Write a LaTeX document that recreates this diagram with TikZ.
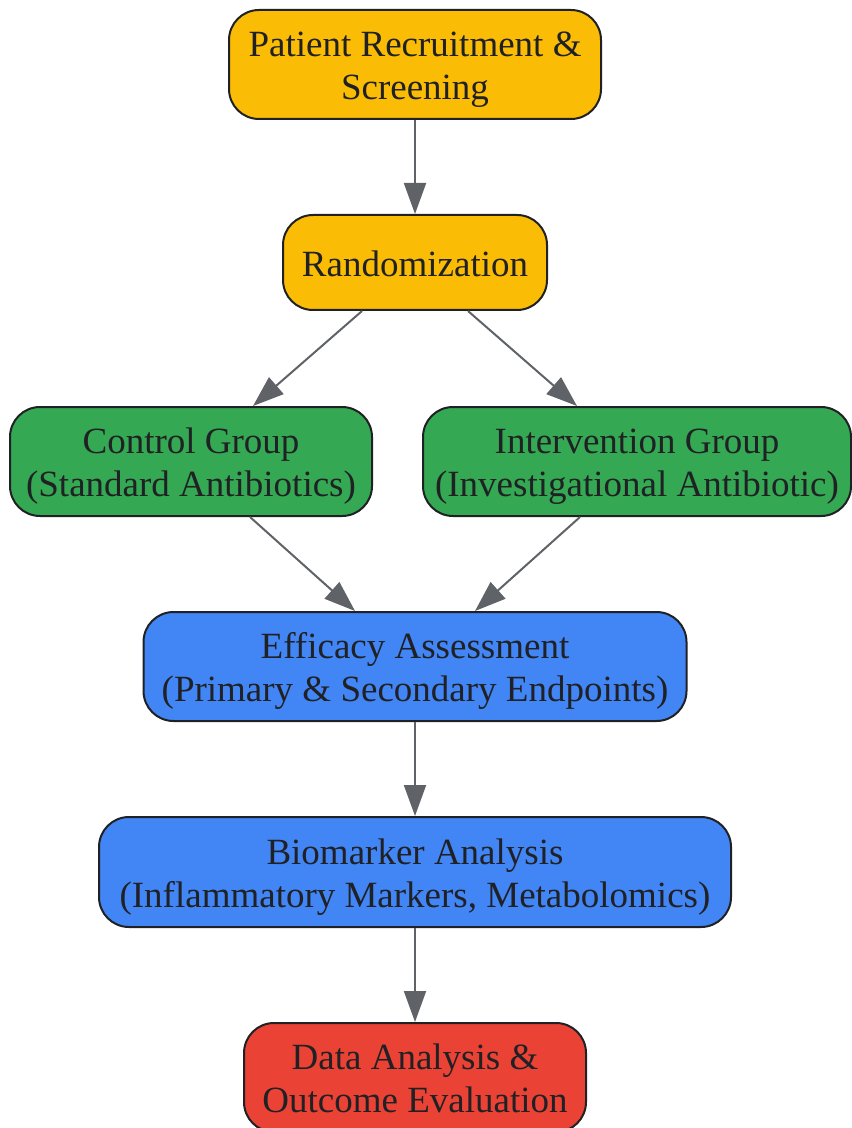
\documentclass[tikz,border=0pt]{standalone}
\usepackage{fontspec}
\setmainfont{Liberation Serif}
\usetikzlibrary{arrows.meta}
\definecolor{stepyellow}{HTML}{FBBC05}
\definecolor{stepgreen}{HTML}{34A853}
\definecolor{stepblue}{HTML}{4285F4}
\definecolor{stepred}{HTML}{EA4335}
\definecolor{textdark}{HTML}{202124}
\definecolor{arrowgray}{HTML}{5F6368}
\begin{document}
\begin{tikzpicture}
          [x=0.5pt,y=-0.5pt,
          font=\fontsize{18.5}{21.5}\selectfont,
          box/.style={shape=rectangle,rounded corners=15pt,draw=textdark,line width=1pt,
            text=textdark,align=center,inner sep=0pt,minimum height=54.5pt,
            text height=39pt,text depth=4pt},
          arc/.style={-{Triangle[length=15.5pt,width=11pt]},draw=arrowgray,fill=arrowgray,line width=1pt}]

          \useasboundingbox (0,0) rectangle (851,1128);

            \node (recruit) [box,fill=stepyellow,minimum width=186pt] at (415,64.5) {Patient Recruitment \&\\Screening};
            \node (rand) [box,fill=stepyellow,minimum width=132pt,minimum height=47.5pt,text height=14pt,text depth=0pt] at (415,262.5) {Randomization};
            \node (ctrl) [box,fill=stepgreen,minimum width=181pt] at (191,461.5) {Control Group\\(Standard Antibiotics)};
            \node (interv) [box,fill=stepgreen,minimum width=214pt] at (637,461.5) {Intervention Group\\(Investigational Antibiotic)};
            \node (effic) [box,fill=stepblue,minimum width=271.5pt] at (415,666.5) {Efficacy Assessment\\(Primary \& Secondary Endpoints)};
            \node (biomark) [box,fill=stepblue,minimum width=316pt,minimum height=55pt] at (415,872) {Biomarker Analysis\\(Inflammatory Markers, Metabolomics)};
            \node (data) [box,fill=stepred,minimum width=171pt] at (415,1077.5) {Data Analysis \&\\Outcome Evaluation};

            \draw [arc] (recruit) -- (rand);
            \draw [arc] ([xshift=-26.5pt]rand.south) -- ([xshift=31pt]ctrl.north);
            \draw [arc] ([xshift=26.5pt]rand.south) -- ([xshift=-30pt]interv.north);
            \draw [arc] ([xshift=29.5pt]ctrl.south) -- ([xshift=-30pt]effic.north);
            \draw [arc] ([xshift=-28.5pt]interv.south) -- ([xshift=30pt]effic.north);
            \draw [arc] (effic) -- (biomark);
            \draw [arc] (biomark) -- (data);

        \end{tikzpicture}
\end{document}
